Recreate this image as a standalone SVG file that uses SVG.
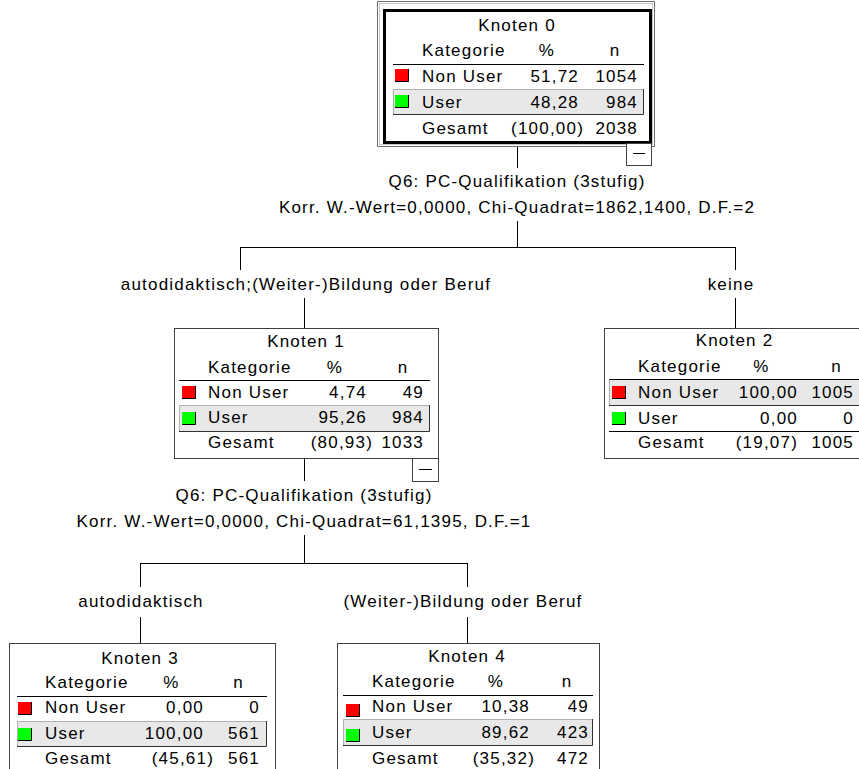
<svg xmlns="http://www.w3.org/2000/svg" width="859" height="769" viewBox="0 0 859 769">
<style>
text{font-family:"Liberation Sans",Arial,sans-serif;font-size:17px;letter-spacing:1.2px;fill:#000}
.m{text-anchor:middle}
.e{text-anchor:end}
.box{fill:#fff;stroke:#404040;stroke-width:1}
.sep{stroke:#000;stroke-width:1;fill:none}
.band{fill:#e8e8e8}
.bl{stroke:#b0b0b0;stroke-width:1;fill:none}
.bd{stroke:#303030;stroke-width:1;fill:none}
.red{fill:#f00}
.grn{fill:#0f0}
.sqd{stroke:#000;stroke-width:1;fill:none}
.c{stroke:#000;stroke-width:1;fill:none}
.mb{fill:#fff;stroke:#404040;stroke-width:1}
</style>
<rect width="859" height="769" fill="#fff"/>
<g id="connectors">
<path class="c" d="M517.5 147V168M517.5 221V247M240 247.5H736M240.5 247V270M735.5 247V270M304.5 298V328M735.5 298V328M304.5 458V481M304.5 535V563M140 563.5H468M140.5 563V587M467.5 563V587M140.5 617V643M467.5 617V643"/>
<text class="m" x="517" y="187">Q6: PC-Qualifikation (3stufig)</text>
<text class="m" x="517" y="213">Korr. W.-Wert=0,0000, Chi-Quadrat=1862,1400, D.F.=2</text>
<text class="m" x="306" y="290">autodidaktisch;(Weiter-)Bildung oder Beruf</text>
<text class="m" x="731" y="290">keine</text>
<text class="m" x="304" y="501">Q6: PC-Qualifikation (3stufig)</text>
<text class="m" x="304" y="527">Korr. W.-Wert=0,0000, Chi-Quadrat=61,1395, D.F.=1</text>
<text class="m" x="141" y="607">autodidaktisch</text>
<text class="m" x="463" y="607">(Weiter-)Bildung oder Beruf</text>
</g>
<g id="node0">
<rect x="377.5" y="1.5" width="277" height="145" fill="#fff" stroke="#707070"/>
<rect x="379.5" y="3.5" width="273" height="141" fill="none" stroke="#c8c8c8"/>
<rect x="384.5" y="10.5" width="266" height="132" fill="none" stroke="#000" stroke-width="3"/>
<text class="m" x="517" y="31">Knoten 0</text>
<text x="422" y="56">Kategorie</text><text class="m" x="547" y="56">%</text><text class="m" x="615" y="56">n</text>
<path class="sep" d="M393 64.5H644"/>
<rect class="red" x="395" y="69" width="14" height="13"/><path class="sqd" d="M395 81.5H408.5V69"/>
<text x="422" y="82">Non User</text><text class="e" x="579" y="82">51,72</text><text class="e" x="638" y="82">1054</text>
<rect class="band" x="393" y="89" width="251" height="26"/><path class="bl" d="M393.5 115V89.5H644"/><path class="bd" d="M393 114.5H643.5V89"/>
<rect class="grn" x="395" y="95" width="14" height="13"/><path class="sqd" d="M395 107.5H408.5V95"/>
<text x="422" y="108">User</text><text class="e" x="579" y="108">48,28</text><text class="e" x="638" y="108">984</text>
<text x="422" y="134">Gesamt</text><text class="e" x="584" y="134">(100,00)</text><text class="e" x="638" y="134">2038</text>
<rect class="mb" x="626.5" y="143.5" width="25" height="22"/><path class="c" d="M633 153.5H645"/>
</g>
<g id="node1">
<rect class="box" x="174.5" y="328.5" width="264" height="130"/>
<text class="m" x="306" y="347">Knoten 1</text>
<text x="208" y="373">Kategorie</text><text class="m" x="335" y="373">%</text><text class="m" x="403" y="373">n</text>
<path class="sep" d="M179 380.5H430"/>
<rect class="red" x="182" y="386" width="14" height="13"/><path class="sqd" d="M182 398.5H195.5V386"/>
<text x="208" y="398">Non User</text><text class="e" x="367" y="398">4,74</text><text class="e" x="424" y="398">49</text>
<rect class="band" x="179" y="405" width="251" height="27"/><path class="bl" d="M179.5 432V405.5H430"/><path class="bd" d="M179 431.5H429.5V405"/>
<rect class="grn" x="182" y="412" width="14" height="13"/><path class="sqd" d="M182 424.5H195.5V412"/>
<text x="208" y="423">User</text><text class="e" x="367" y="423">95,26</text><text class="e" x="424" y="423">984</text>
<text x="208" y="448">Gesamt</text><text class="e" x="373" y="448">(80,93)</text><text class="e" x="424" y="448">1033</text>
<rect class="mb" x="412.5" y="458.5" width="26" height="23"/><path class="c" d="M419 469.5H432"/>
</g>
<g id="node2">
<rect class="box" x="604.5" y="328.5" width="264" height="130"/>
<text class="m" x="734.5" y="346">Knoten 2</text>
<text x="638" y="372">Kategorie</text><text class="m" x="761.5" y="372">%</text><text class="m" x="836.5" y="372">n</text>
<rect class="band" x="609" y="380" width="251" height="26"/><path class="sep" d="M609 379.5H860"/><path class="bl" d="M609.5 406V381"/><path class="bd" d="M609 405.5H860"/>
<rect class="red" x="612" y="386" width="14" height="13"/><path class="sqd" d="M612 398.5H625.5V386"/>
<text x="638" y="398">Non User</text><text class="e" x="798" y="398">100,00</text><text class="e" x="854" y="398">1005</text>
<rect class="grn" x="612" y="412" width="14" height="13"/><path class="sqd" d="M612 424.5H625.5V412"/>
<text x="638" y="424">User</text><text class="e" x="798" y="424">0,00</text><text class="e" x="854" y="424">0</text>
<path class="sep" d="M609 431.5H860"/>
<text x="638" y="448">Gesamt</text><text class="e" x="798" y="448">(19,07)</text><text class="e" x="854" y="448">1005</text>
</g>
<g id="node3">
<rect class="box" x="9.5" y="643.5" width="266" height="140"/>
<text class="m" x="140" y="664">Knoten 3</text>
<text x="45" y="688">Kategorie</text><text class="m" x="171.5" y="688">%</text><text class="m" x="238.5" y="688">n</text>
<path class="sep" d="M17 696.5H267"/>
<rect class="red" x="18" y="702" width="14" height="13"/><path class="sqd" d="M18 714.5H31.5V702"/>
<text x="45" y="713">Non User</text><text class="e" x="204" y="713">0,00</text><text class="e" x="260" y="713">0</text>
<rect class="band" x="17" y="721" width="250" height="26"/><path class="bl" d="M17.5 747V721.5H267"/><path class="bd" d="M17 746.5H266.5V721"/>
<rect class="grn" x="18" y="728" width="14" height="13"/><path class="sqd" d="M18 740.5H31.5V728"/>
<text x="45" y="739">User</text><text class="e" x="204" y="739">100,00</text><text class="e" x="260" y="739">561</text>
<text x="45" y="764">Gesamt</text><text class="e" x="214" y="764">(45,61)</text><text class="e" x="260" y="764">561</text>
</g>
<g id="node4">
<rect class="box" x="337.5" y="643.5" width="262" height="140"/>
<text class="m" x="467" y="662">Knoten 4</text>
<text x="372" y="687">Kategorie</text><text class="m" x="496" y="687">%</text><text class="m" x="567" y="687">n</text>
<path class="sep" d="M343 695.5H593"/>
<rect class="red" x="346" y="704" width="14" height="13"/><path class="sqd" d="M346 716.5H359.5V704"/>
<text x="372" y="712">Non User</text><text class="e" x="530" y="712">10,38</text><text class="e" x="589" y="712">49</text>
<rect class="band" x="343" y="719" width="250" height="27"/><path class="bl" d="M343.5 746V719.5H593"/><path class="bd" d="M343 745.5H592.5V719"/>
<rect class="grn" x="346" y="729" width="14" height="13"/><path class="sqd" d="M346 741.5H359.5V729"/>
<text x="372" y="738">User</text><text class="e" x="530" y="738">89,62</text><text class="e" x="589" y="738">423</text>
<text x="372" y="764">Gesamt</text><text class="e" x="535" y="764">(35,32)</text><text class="e" x="589" y="764">472</text>
</g>
</svg>
